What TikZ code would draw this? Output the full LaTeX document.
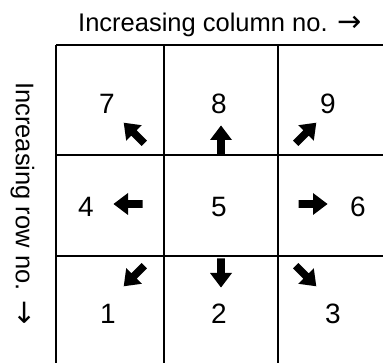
\documentclass[tikz,border=0pt]{standalone}
\usepackage{fontspec}
\setmainfont{Liberation Sans}
\newfontfamily\arrowfont{DejaVu Sans}
\begin{document}
\begin{tikzpicture}[x=1pt,y=-1pt,
  gridline/.style={line width=2pt,black},
  lbl/.style={font=\fontsize{25.5}{30}\selectfont,inner sep=0pt},
  num/.style={font=\fontsize{28}{32}\selectfont,inner sep=0pt},
  barrow/.pic={\fill[black] (14.5,0) -- (0,-11) -- (0,-3.8) -- (-14.5,-3.8) -- (-14.5,3.8) -- (0,3.8) -- (0,11) -- cycle;}]
\useasboundingbox (0,0) rectangle (383,363);
% grid
\coordinate (v1t) at (56,45);  \coordinate (v1b) at (56,363);
\coordinate (v2t) at (164,45); \coordinate (v2b) at (164,363);
\coordinate (v3t) at (278,45); \coordinate (v3b) at (278,363);
\coordinate (h1l) at (56,45);  \coordinate (h1r) at (383,45);
\coordinate (h2l) at (56,155); \coordinate (h2r) at (383,155);
\coordinate (h3l) at (56,256); \coordinate (h3r) at (383,256);
\draw[gridline] (v1t) -- (v1b) (v2t) -- (v2b) (v3t) -- (v3b);
\draw[gridline] (h1l) -- (h1r) (h2l) -- (h2r) (h3l) -- (h3r);
% axis labels
\node[lbl,anchor=base west] (coltext) at (78,32) {Increasing column no. {\arrowfont\fontsize{29}{30}\selectfont →}};
\node[lbl,anchor=base west,rotate=-90] (rowtext) at (16,82) {Increasing row no. {\arrowfont\fontsize{29}{30}\selectfont →}};
% numbers
\node[num] (n7) at (107,104) {7};
\node[num] (n8) at (219,104) {8};
\node[num] (n9) at (328,104) {9};
\node[num] (n4) at (86,207) {4};
\node[num] (n5) at (219,207) {5};
\node[num] (n6) at (358,207) {6};
\node[num] (n1) at (108,314) {1};
\node[num] (n2) at (219,314) {2};
\node[num] (n3) at (333,314) {3};
% arrows
\pic[rotate=135] at (134,133) {barrow};
\pic[rotate=90] at (221,140) {barrow};
\pic[rotate=45] at (306,133) {barrow};
\pic[rotate=180] at (128,204) {barrow};
\pic[rotate=0] at (313,204) {barrow};
\pic[rotate=225] at (134,276) {barrow};
\pic[rotate=270] at (221,273) {barrow};
\pic[rotate=315] at (306,276) {barrow};
\end{tikzpicture}
\end{document}
